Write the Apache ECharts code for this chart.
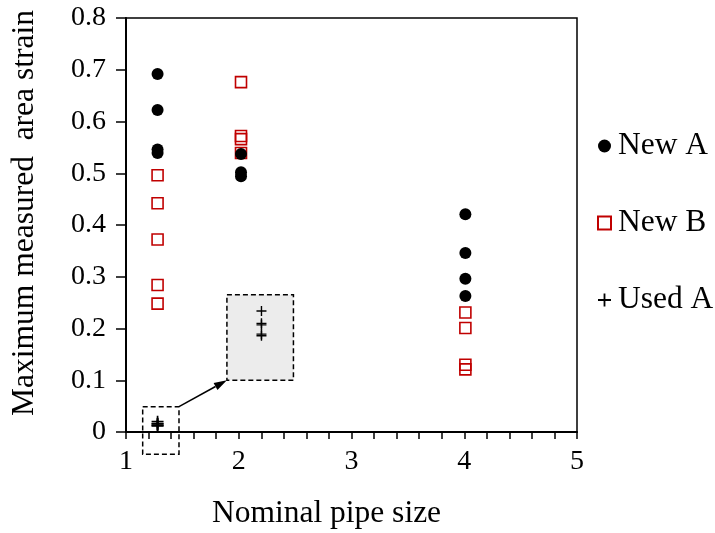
<!DOCTYPE html>
<html>
<head>
<meta charset="utf-8">
<script src="https://cdn.jsdelivr.net/npm/echarts@6/dist/echarts.min.js"></script>
<style>
  html, body { margin: 0; padding: 0; background: #fff; }
  #chart { width: 715px; height: 533px; }
</style>
</head>
<body>
<div id="chart"></div>
<script>
// Maximum measured area strain against nominal pipe size
const seriesNames = ['New A', 'New B', 'Used A'];

const newAX = [1.28, 1.28, 1.28, 1.28, 2.02, 2.02, 2.02, 4.01, 4.01, 4.01, 4.01];
const newAY = [0.692, 0.622, 0.546, 0.539, 0.537, 0.502, 0.494, 0.421, 0.346, 0.296, 0.263];

const newBX = [1.28, 1.28, 1.28, 1.28, 1.28, 2.02, 2.02, 2.02, 2.02, 4.01, 4.01, 4.01, 4.01];
const newBY = [0.496, 0.442, 0.372, 0.284, 0.248, 0.676, 0.572, 0.566, 0.539, 0.231, 0.201, 0.130, 0.121];

const usedAX = [1.28, 1.28, 1.28, 1.28, 1.28];
const usedAY = [0.020, 0.016, 0.0155, 0.0125, 0.012];

const xTicks = { min: 1, max: 5, step: 1 };
const yTicks = { min: 0, max: 0.8, step: 0.1 };

// ---- layout / style ----
const FONT = '"Liberation Serif", "Times New Roman", serif';
const RED = '#c00000';
const PLUS = 'path://M4.3,0H5.7V4.3H10V5.7H5.7V10H4.3V5.7H0V4.3H4.3Z';

// region of the main axes that is magnified, and where the magnified copy sits
const zoomWindow = { x: [1.148, 1.47], y: [-0.043, 0.049] };
const insetBox = { x: [1.895, 2.485], y: [0.10, 0.265] };
// value range displayed by the magnified copy
const insetRange = { x: [1.2, 1.354], y: [-0.0024, 0.0252] };

const pair = (xs, ys) => xs.map((x, i) => [x, ys[i]]);

const chart = echarts.init(document.getElementById('chart'), null, { renderer: 'canvas' });

const axisLineStyle = { color: '#000', width: 2 };
const tickStyle = { color: '#000', width: 1.5 };

chart.setOption({
  animation: false,
  backgroundColor: '#fff',
  textStyle: { fontFamily: FONT },
  grid: [{
    left: 126, right: 138, top: 18, bottom: 101,
    outerBoundsMode: 'none', containLabel: false,
    show: true, borderColor: '#000', borderWidth: 1.5, backgroundColor: 'transparent'
  }],
  legend: {
    orient: 'vertical',
    left: 592, top: 125,
    itemWidth: 13, itemHeight: 13, itemGap: 45,
    data: seriesNames,
    textStyle: { fontSize: 31.5, color: '#000', fontFamily: FONT, padding: [0, 0, 0, 2] }
  },
  xAxis: [{
    type: 'value', gridIndex: 0,
    min: xTicks.min, max: xTicks.max, interval: xTicks.step,
    axisLine: { show: true, onZero: false, lineStyle: axisLineStyle },
    axisTick: { show: true, inside: false, length: 7, lineStyle: tickStyle },
    minorTick: { show: true, splitNumber: 5, length: 7, lineStyle: tickStyle },
    splitLine: { show: false },
    axisLabel: { fontSize: 28, color: '#000', margin: 16, fontFamily: FONT },
    name: 'Nominal pipe size', nameLocation: 'middle', nameGap: 66,
    nameTextStyle: { fontSize: 31.5, color: '#000', fontFamily: FONT, padding: [0, 50, 0, 0] }
  }],
  yAxis: [{
    type: 'value', gridIndex: 0,
    min: yTicks.min, max: yTicks.max, interval: yTicks.step,
    axisLine: { show: true, onZero: false, lineStyle: axisLineStyle },
    axisTick: { show: true, inside: false, length: 10, lineStyle: tickStyle },
    splitLine: { show: false },
    axisLabel: { fontSize: 28, color: '#000', margin: 20, fontFamily: FONT },
    name: 'Maximum measured  area strain', nameLocation: 'middle', nameGap: 85,
    nameTextStyle: { fontSize: 31.5, color: '#000', fontFamily: FONT, padding: [0, 0, 0, 24] }
  }],
  series: [
    {
      id: 'newB', name: 'New B', type: 'scatter', xAxisIndex: 0, yAxisIndex: 0,
      data: pair(newBX, newBY),
      symbol: 'rect', symbolSize: 11,
      itemStyle: { color: 'rgba(255,255,255,0)', borderColor: RED, borderWidth: 1.6, opacity: 1 },
      z: 2
    },
    {
      id: 'newA', name: 'New A', type: 'scatter', xAxisIndex: 0, yAxisIndex: 0,
      data: pair(newAX, newAY),
      symbol: 'circle', symbolSize: 12,
      itemStyle: { color: '#000', opacity: 1 },
      z: 3
    },
    {
      id: 'usedA', name: 'Used A', type: 'scatter', xAxisIndex: 0, yAxisIndex: 0,
      data: pair(usedAX, usedAY),
      symbol: PLUS, symbolSize: 12,
      itemStyle: { color: '#000', opacity: 1 },
      z: 3
    }
  ]
});

// Magnified copy of the Used A cluster, with its dashed frames and pointer arrow
const px = (x, y) => chart.convertToPixel({ gridIndex: 0 }, [x, y]);
const zA = px(zoomWindow.x[0], zoomWindow.y[1]);   // top-left
const zB = px(zoomWindow.x[1], zoomWindow.y[0]);   // bottom-right
const iA = px(insetBox.x[0], insetBox.y[1]);
const iB = px(insetBox.x[1], insetBox.y[0]);

const arrowFrom = [zB[0], zA[1]];
const arrowTo = [iA[0], iB[1]];
const ang = Math.atan2(arrowTo[1] - arrowFrom[1], arrowTo[0] - arrowFrom[0]);
const headLen = 13, headHalf = 4;
const base = [arrowTo[0] - headLen * Math.cos(ang), arrowTo[1] - headLen * Math.sin(ang)];
const nx = -Math.sin(ang), ny = Math.cos(ang);

const dashed = { stroke: '#000', lineWidth: 1.5, lineDash: [5, 3], fill: null };

chart.setOption({
  grid: [{}, {
    left: iA[0], top: iA[1], width: iB[0] - iA[0], height: iB[1] - iA[1],
    outerBoundsMode: 'none', containLabel: false,
    show: true, backgroundColor: '#ececec', borderWidth: 0
  }],
  xAxis: [{}, {
    type: 'value', gridIndex: 1, show: false,
    min: insetRange.x[0], max: insetRange.x[1],
    splitLine: { show: false }
  }],
  yAxis: [{}, {
    type: 'value', gridIndex: 1, show: false,
    min: insetRange.y[0], max: insetRange.y[1],
    splitLine: { show: false }
  }],
  series: [{
    id: 'usedAInset', name: 'Used A', type: 'scatter', xAxisIndex: 1, yAxisIndex: 1,
    data: pair(usedAX, usedAY),
    symbol: PLUS, symbolSize: 10,
    itemStyle: { color: '#000', opacity: 1 },
    z: 4
  }],
  graphic: [
    {
      type: 'rect', z: 10, silent: true,
      shape: { x: zA[0], y: zA[1], width: zB[0] - zA[0], height: zB[1] - zA[1] },
      style: dashed
    },
    {
      type: 'rect', z: 10, silent: true,
      shape: { x: iA[0], y: iA[1], width: iB[0] - iA[0], height: iB[1] - iA[1] },
      style: dashed
    },
    {
      type: 'line', z: 10, silent: true,
      shape: { x1: arrowFrom[0], y1: arrowFrom[1], x2: base[0], y2: base[1] },
      style: { stroke: '#000', lineWidth: 1.5 }
    },
    {
      type: 'polygon', z: 10, silent: true,
      shape: { points: [arrowTo,
        [base[0] + nx * headHalf, base[1] + ny * headHalf],
        [base[0] - nx * headHalf, base[1] - ny * headHalf]] },
      style: { fill: '#000' }
    }
  ]
});
</script>
</body>
</html>
